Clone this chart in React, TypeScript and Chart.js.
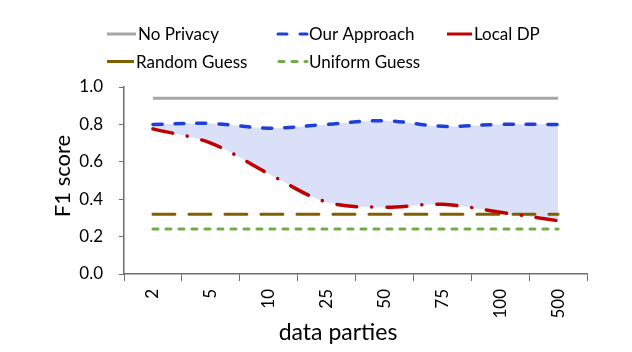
import React, { useEffect, useRef } from "react";
import { Chart, registerables } from "chart.js";
Chart.register(...registerables);

const categories = ["2", "5", "10", "25", "50", "75", "100", "500"];
const noPrivacy = [0.94, 0.94, 0.94, 0.94, 0.94, 0.94, 0.94, 0.94];
const ourApproach = [0.8, 0.805, 0.78, 0.8, 0.82, 0.79, 0.8, 0.8];
const localDP = [0.776, 0.7, 0.536, 0.385, 0.357, 0.373, 0.33, 0.285];
const randomGuess = [0.32, 0.32, 0.32, 0.32, 0.32, 0.32, 0.32, 0.32];
const uniformGuess = [0.24, 0.24, 0.24, 0.24, 0.24, 0.24, 0.24, 0.24];
const yTickValues = [0, 0.2, 0.4, 0.6, 0.8, 1.0];

const FONT = "Lato, 'Open Sans', sans-serif";
const GRAY = "#a6a6a6";
const BLUE = "#1f3fd9";
const RED = "#c00000";
const BROWN = "#7f6000";
const GREEN = "#70ad47";
const FILL = "#dae0f7";
const AXIS = "#6e6e6e";

const legendItems = [
  { label: "No Privacy", color: GRAY, dash: [] as number[], x: 107, y: 34, len: 29 },
  { label: "Our Approach", color: BLUE, dash: [9, 13], x: 278, y: 34, len: 29 },
  { label: "Local DP", color: RED, dash: [], x: 447, y: 34, len: 25 },
  { label: "Random Guess", color: BROWN, dash: [], x: 107, y: 61.5, len: 27 },
  { label: "Uniform Guess", color: GREEN, dash: [5, 8], x: 279, y: 61.5, len: 28 },
];

const decor = {
  id: "decor",
  afterDraw(chart: any) {
    const ctx = chart.ctx as CanvasRenderingContext2D;
    ctx.save();
    // legend
    ctx.font = `17px ${FONT}`;
    ctx.textBaseline = "middle";
    ctx.textAlign = "left";
    for (const it of legendItems) {
      ctx.strokeStyle = it.color;
      ctx.lineWidth = 3;
      ctx.lineCap = it.dash.length ? "round" : "butt";
      ctx.setLineDash(it.dash);
      ctx.beginPath();
      ctx.moveTo(it.x, it.y);
      ctx.lineTo(it.x + it.len, it.y);
      ctx.stroke();
      ctx.setLineDash([]);
      ctx.fillStyle = "#000";
      ctx.fillText(it.label, it.x + it.len + 2, it.y + 1);
    }
    // axis titles
    ctx.fillStyle = "#000";
    ctx.font = `23px ${FONT}`;
    ctx.textAlign = "center";
    ctx.textBaseline = "middle";
    ctx.fillText("data parties", 338, 333);
    ctx.translate(63, 176);
    ctx.rotate(-Math.PI / 2);
    ctx.font = `22px ${FONT}`;
    ctx.fillText("F1 score", 0, 0);
    ctx.restore();
  },
};

export default function App() {
  const ref = useRef<HTMLCanvasElement>(null);
  useEffect(() => {
    document.body.style.margin = "0";
    const chart = new Chart(ref.current!, {
      type: "line",
      data: {
        labels: categories,
        datasets: [
          {
            label: "No Privacy",
            data: noPrivacy,
            borderColor: GRAY,
            borderWidth: 3,
            pointRadius: 0,
            fill: false,
          },
          {
            label: "Our Approach",
            data: ourApproach,
            borderColor: BLUE,
            borderWidth: 3.5,
            borderDash: [9, 13],
            borderCapStyle: "round",
            pointRadius: 0,
            tension: 0.35,
            fill: "+1",
            backgroundColor: FILL,
          },
          {
            label: "Local DP",
            data: localDP,
            borderColor: RED,
            borderWidth: 3.5,
            borderDash: [20, 15, 0.1, 15],
            borderCapStyle: "round",
            pointRadius: 0,
            tension: 0.35,
            fill: false,
          },
          {
            label: "Random Guess",
            data: randomGuess,
            borderColor: BROWN,
            borderWidth: 3,
            borderDash: [22, 14],
            borderCapStyle: "round",
            pointRadius: 0,
            fill: false,
          },
          {
            label: "Uniform Guess",
            data: uniformGuess,
            borderColor: GREEN,
            borderWidth: 3,
            borderDash: [5, 8],
            borderCapStyle: "round",
            pointRadius: 0,
            fill: false,
          },
        ],
      },
      options: {
        animation: false,
        responsive: false,
        layout: { padding: { left: 0, top: 87, right: 45, bottom: 0 } },
        plugins: {
          legend: { display: false },
          tooltip: { enabled: false },
          filler: { drawTime: "beforeDatasetsDraw" },
        } as any,
        scales: {
          x: {
            type: "category",
            offset: true,
            grid: {
              offset: true,
              drawOnChartArea: false,
              drawTicks: true,
              tickLength: 7,
              color: AXIS,
              lineWidth: 1,
            },
            border: { color: AXIS, width: 1.5 },
            ticks: {
              minRotation: 90,
              maxRotation: 90,
              padding: 8,
              color: "#000",
              font: { family: FONT, size: 17 },
            },
            afterFit: (s: any) => {
              s.height = 78;
            },
          },
          y: {
            min: 0,
            max: 1,
            afterBuildTicks: (s: any) => {
              s.ticks = yTickValues.map((v) => ({ value: v }));
            },
            grid: {
              drawOnChartArea: false,
              drawTicks: true,
              tickLength: 5,
              color: AXIS,
            },
            border: { color: AXIS, width: 1.5 },
            ticks: {
              padding: 16,
              color: "#000",
              font: { family: FONT, size: 17 },
              callback: (v: any) => Number(v).toFixed(1),
            },
            afterFit: (s: any) => {
              s.width = 124;
            },
          },
        },
      },
      plugins: [decor],
    });
    return () => chart.destroy();
  }, []);
  return <canvas ref={ref} width={632} height={352} style={{ display: "block" }} />;
}
